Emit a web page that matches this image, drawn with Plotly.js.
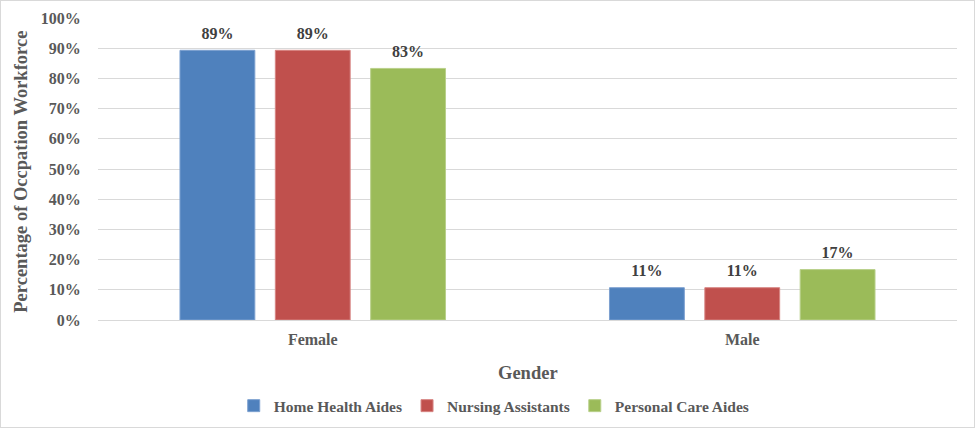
<!DOCTYPE html>
<html><head><meta charset="utf-8">
<script src="https://cdn.plot.ly/plotly-3.0.1.min.js"></script>
<style>
html,body{margin:0;padding:0;background:#fff;}
#wrap{width:975px;height:428px;box-sizing:border-box;border:1px solid #d9d9d9;overflow:hidden;}
#chart{width:973px;height:426px;}
</style></head>
<body><div id="wrap"><div id="chart"></div></div>
<script>
const categories = ["Female", "Male"];
const homeHealthAides = [0.893, 0.107];
const nursingAssistants = [0.893, 0.107];
const personalCareAides = [0.833, 0.167];
const seriesNames = ["Home Health Aides", "Nursing Assistants", "Personal Care Aides"];
const seriesColors = ["#4f81bd", "#c0504d", "#9bbb59"];
const seriesLines = ["#7da1d0", "#d78583", "#b9d08b"];
const yTicks = [0,0.1,0.2,0.3,0.4,0.5,0.6,0.7,0.8,0.9,1.0];

const FONT = "Liberation Serif, Times New Roman, serif";
const GREY = "#595959";
const allSeries = [homeHealthAides, nursingAssistants, personalCareAides];
const bars = allSeries.map((vals, i) => ({
  type: "bar",
  name: seriesNames[i],
  x: categories,
  y: vals,
  offsetgroup: String(i),
  marker: {color: seriesColors[i], line: {color: seriesLines[i], width: 1}},
  hoverinfo: "skip"
}));
const labels = allSeries.map((vals, i) => ({
  type: "scatter",
  mode: "markers+text",
  x: categories,
  y: vals,
  offsetgroup: String(i),
  showlegend: false,
  marker: {size: 10, opacity: 0, color: seriesColors[i]},
  texttemplate: "%{y:.0%}",
  textposition: "top center",
  cliponaxis: false,
  textfont: {family: FONT, size: 16, color: "#404040", weight: "bold"},
  hoverinfo: "skip"
}));

const layout = {
  width: 973, height: 426,
  margin: {l: 97, r: 17, t: 17, b: 107, autoexpand: false},
  paper_bgcolor: "#fff", plot_bgcolor: "#fff",
  barmode: "group", bargap: 0.334, bargroupgap: 0.215,
  scattermode: "group", scattergap: 0.334,
  font: {family: FONT, color: GREY},
  showlegend: true,
  legend: {orientation: "h", x: 0.158, xanchor: "left", y: -0.285, yanchor: "middle",
           font: {family: FONT, size: 15.5, color: GREY, weight: "bold"}, itemwidth: 30,
           traceorder: "normal"},
  xaxis: {
    tickfont: {family: FONT, size: 16, color: GREY, weight: "bold"},
    showgrid: false, showline: true, linecolor: "#d9d9d9", linewidth: 1,
    ticks: "outside", ticklen: 5, tickcolor: "rgba(0,0,0,0)", fixedrange: true
  },
  yaxis: {
    range: [0, 1], tickvals: yTicks, tickformat: ".0%",
    tickfont: {family: FONT, size: 16, color: GREY, weight: "bold"},
    showgrid: true, gridcolor: "#d9d9d9", gridwidth: 1, zeroline: false,
    showline: false, ticks: "outside", ticklen: 13, tickcolor: "rgba(0,0,0,0)", fixedrange: true
  },
  annotations: [
    {text: "Gender", xref: "paper", yref: "paper", x: 0.5, y: -0.1755, yanchor: "middle", showarrow: false,
     font: {family: FONT, size: 18.5, color: GREY, weight: "bold"}},
    {text: "Percentage of Occpation Workforce", xref: "paper", yref: "paper", x: -0.09, xanchor: "center",
     y: 0.49, yanchor: "middle", textangle: -90, showarrow: false,
     font: {family: FONT, size: 18.5, color: GREY, weight: "bold"}}
  ]
};
Plotly.newPlot("chart", bars.concat(labels), layout, {displayModeBar: false, staticPlot: true});
</script></body></html>
